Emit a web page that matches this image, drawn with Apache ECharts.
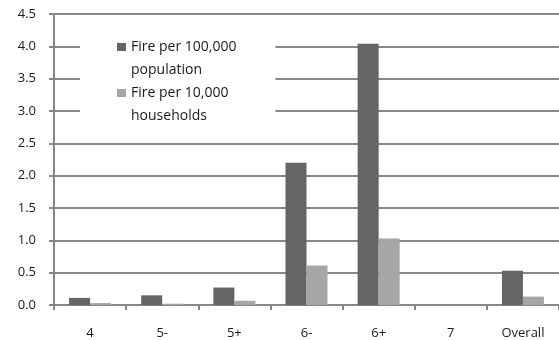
<!DOCTYPE html>
<html><head><meta charset="utf-8">
<script src="https://cdn.jsdelivr.net/npm/echarts@6/dist/echarts.min.js"></script>
<style>html,body{margin:0;padding:0;background:#fff}#c{width:559px;height:340px}</style>
</head><body><div id="c"></div>
<script>
const categories = ['4', '5-', '5+', '6-', '6+', '7', 'Overall'];
const seriesNames = ['Fire per 100,000\npopulation', 'Fire per 10,000\nhouseholds'];
const firePerPopulation = [0.11, 0.15, 0.27, 2.20, 4.04, 0, 0.53];
const firePerHouseholds = [0.03, 0.02, 0.065, 0.61, 1.03, 0, 0.13];
const yTicks = { min: 0, max: 4.5, interval: 0.5 };

const FONT = 'Open Sans';
const gridColor = '#878787';
const textColor = '#1a1a1a';
const chart = echarts.init(document.getElementById('c'), null, { renderer: 'canvas' });
const icon = 'path://M0,0L0,0M0,7.5L9,7.5L9,15.5L0,15.5ZM0,46L0,46';
chart.setOption({
  animation: false,
  textStyle: { fontFamily: FONT },
  grid: { left: 54, top: 14, bottom: 35, right: -6, containLabel: false },
  legend: {
    orient: 'vertical', left: 80, top: 30,
    padding: [5.5, 39, 6, 37],
    backgroundColor: '#fff',
    itemWidth: 9, itemHeight: 46, itemGap: 0,
    icon: icon,
    textStyle: { fontFamily: FONT, fontSize: 14, color: textColor, lineHeight: 23 },
    data: seriesNames
  },
  xAxis: {
    type: 'category', data: categories,
    axisLine: { lineStyle: { color: gridColor, width: 2 } },
    axisTick: { show: true, alignWithLabel: false, length: 5, lineStyle: { color: gridColor, width: 2 } },
    axisLabel: { color: textColor, fontSize: 13, margin: 22, fontFamily: FONT }
  },
  yAxis: {
    type: 'value', min: yTicks.min, max: yTicks.max, interval: yTicks.interval,
    axisLine: { show: true, lineStyle: { color: gridColor, width: 2 } },
    axisTick: { show: true, length: 5, lineStyle: { color: gridColor, width: 2 } },
    splitLine: { lineStyle: { color: gridColor, width: 2 } },
    axisLabel: { color: textColor, fontSize: 13, margin: 18, fontFamily: FONT, formatter: v => v.toFixed(1) }
  },
  series: [
    { name: seriesNames[0], type: 'bar', data: firePerPopulation, barWidth: 21, barGap: '0%', itemStyle: { color: '#646567' } },
    { name: seriesNames[1], type: 'bar', data: firePerHouseholds, barWidth: 21, barGap: '0%', itemStyle: { color: '#a5a6a8' } }
  ]
});
</script></body></html>
